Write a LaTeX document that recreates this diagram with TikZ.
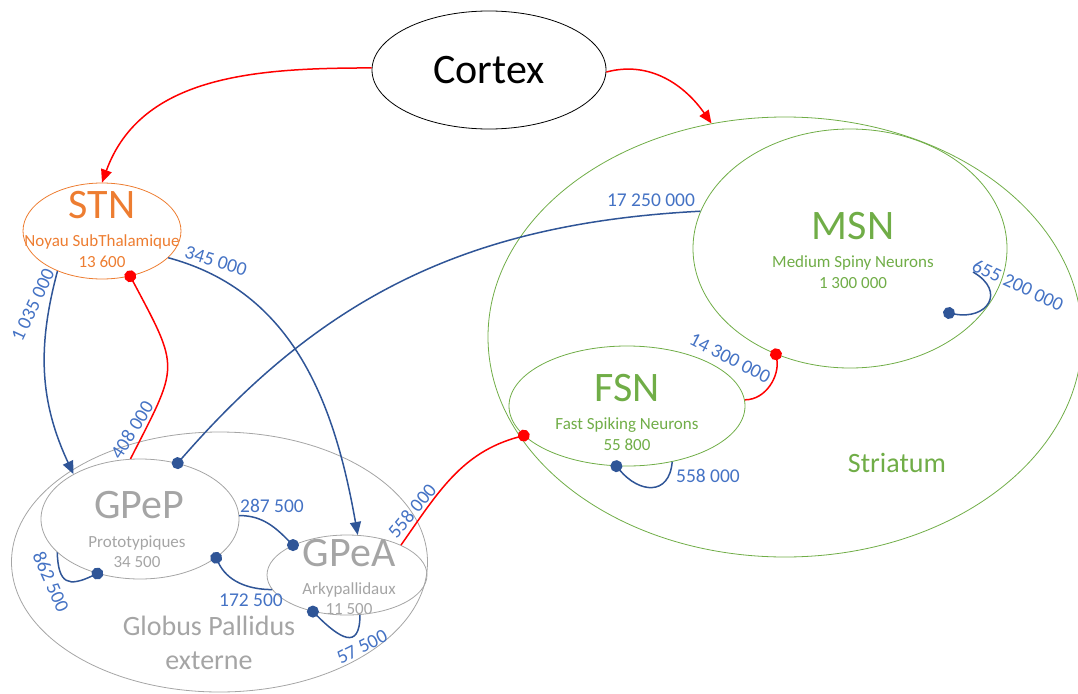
\documentclass[tikz,border=0pt]{standalone}
\usepackage{fontspec}
\setmainfont{Carlito}
\usetikzlibrary{arrows.meta, positioning, shapes.geometric, calc}
\definecolor{corange}{HTML}{ED7D31}
\definecolor{cgreen}{HTML}{70AD47}
\definecolor{cgrey}{HTML}{A5A5A5}
\definecolor{clabel}{HTML}{4472C4}
\definecolor{cnavy}{HTML}{2F5597}
\definecolor{cred}{HTML}{FF0000}
\tikzset{
  every picture/.style={line width=1.5pt},
  zone/.style={ellipse, draw=#1, line width=0.8pt, inner sep=0pt},
  zone/.default=black,
  title/.style={text=#1, inner sep=0pt, font=\fontsize{42}{42}\selectfont},
  sub/.style={text=#1, inner sep=0pt, align=center, font=\fontsize{17}{20.5}\selectfont},
  region/.style={text=#1, inner sep=0pt, align=center, font=\fontsize{28}{34}\selectfont},
  lbl/.style={text=clabel, inner sep=0pt, font=\fontsize{19.5}{19.5}\selectfont},
  excit/.style={draw=cred, -{Triangle[length=13pt, width=11pt]}},
  inhib/.style={draw=cnavy, -{Triangle[length=13pt, width=11pt]}},
  reddot/.style={draw=cred, -{Circle[length=12pt]}, shorten >=-6pt},
  bluedot/.style={draw=cnavy, -{Circle[length=12pt]}, shorten >=-6pt},
}

\begin{document}
\begin{tikzpicture}[x=1pt, y=1pt]
  \useasboundingbox (0,0) rectangle (1078,-693);
  % regions
  \node[zone=cgreen, minimum width=594pt, minimum height=440pt] (str) at (785,-337) {};
  \node[zone=cgrey, minimum width=416pt, minimum height=260pt] (gp) at (219.5,-562) {};
  \node[zone, minimum width=234pt, minimum height=118pt, font=\fontsize{42}{42}\selectfont] (cortex) at (489,-70) {Cortex};
  \node[zone=corange, minimum width=158pt, minimum height=96pt] (stn) at (102,-231) {};
  \node[zone=cgreen, minimum width=314pt, minimum height=239pt] (msn) at (850,-248.5) {};
  \node[zone=cgreen, minimum width=236pt, minimum height=120pt] (fsn) at (627,-406) {};
  \node[zone=cgrey, minimum width=198pt, minimum height=120pt] (gpep) at (140,-519) {};
  \node[zone=cgrey, minimum width=160pt, minimum height=80pt] (gpea) at (347,-575) {};

  % names
  \node[title=corange] (stnT) at (102,-205) {STN};
  \node[sub=corange] (stnS) at (102,-251) {Noyau SubThalamique\\13 600};
  \node[title=cgreen] (msnT) at (853,-226.5) {MSN};
  \node[sub=cgreen] (msnS) at (853,-272) {Medium Spiny Neurons\\1 300 000};
  \node[title=cgreen] (fsnT) at (627,-388) {FSN};
  \node[sub=cgreen] (fsnS) at (627,-434) {Fast Spiking Neurons\\55 800};
  \node[title=cgrey] (gpepT) at (139,-505) {GPeP};
  \node[sub=cgrey] (gpepS) at (137,-551.5) {Prototypiques\\34 500};
  \node[title=cgrey] (gpeaT) at (349,-553) {GPeA};
  \node[sub=cgrey] (gpeaS) at (349,-598.5) {Arkypallidaux\\11 500};
  \node[region=cgreen] (strT) at (897,-463) {Striatum};
  \node[region=cgrey] (gpT) at (209,-643) {Globus Pallidus\\externe};

  % connections
  \draw[excit] (cortex.179) to[out=180, in=70] (stn.90);
  \draw[excit] (cortex.-1) to[out=15, in=125] (str.109);
  \draw[inhib] (stn.222) to[out=255, in=115] (gpep.146);
  \draw[inhib] (stn.-22) to[out=-15, in=100] (gpea.75);
  \draw[reddot] (gpep.99) to[out=63, in=-62, looseness=1.5] (stn.-58);
  \draw[bluedot] (msn.166) to[out=183, in=49] (gpep.56);
  \draw[bluedot] (gpep.2) to[out=0, in=135] (gpea.151);
  \draw[bluedot] (gpea.191) to[out=180, in=-65] (gpep.-27);
  \draw[bluedot] (gpep.202) to[out=-88, in=205, looseness=1.8] (gpep.232);
  \draw[bluedot] (gpea.-72) to[out=-90, in=-45, looseness=2] (gpea.227);
  \draw[reddot] (gpea.29) to[out=55, in=195] (fsn.196);
  \draw[reddot] (fsn.3) to[out=0, in=-80] (msn.235);
  \draw[bluedot] (fsn.-51) to[out=-95, in=-50, looseness=1.6] (fsn.260);
  \coordinate (msnA) at ($(msn.center)+(123,-23.5)$);
  \coordinate (msnB) at ($(msn.center)+(99,-64.5)$);
  \draw[bluedot] (msnA) to[out=-30, in=-11, looseness=2.1] (msnB);

  % counts
  \node[lbl, rotate=65] (l1) at (33,-305) {1 035 000};
  \node[lbl, rotate=-17] (l2) at (216,-261) {345 000};
  \node[lbl, rotate=58] (l3) at (132,-430) {408 000};
  \node[lbl] (l4) at (651,-200) {17 250 000};
  \node[lbl] (l5) at (272,-506) {287 500};
  \node[lbl] (l6) at (251,-600) {172 500};
  \node[lbl, rotate=-66] (l7) at (51,-582) {862 500};
  \node[lbl, rotate=27] (l8) at (362,-647) {57 500};
  \node[lbl, rotate=50] (l9) at (412,-511) {558 000};
  \node[lbl, rotate=-27] (l10) at (730,-358) {14 300 000};
  \node[lbl] (l11) at (708,-476) {558 000};
  \node[lbl, rotate=-25] (l12) at (1018,-285) {655 200 000};
\end{tikzpicture}
\end{document}
